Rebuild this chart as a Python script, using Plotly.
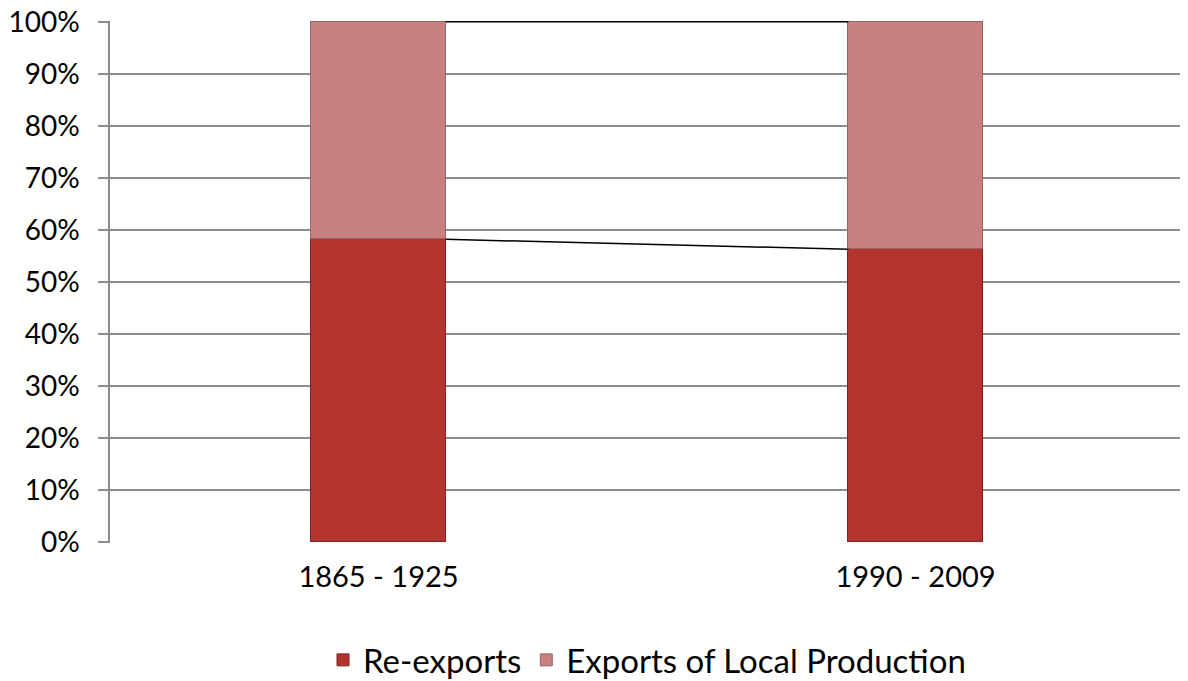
import plotly.graph_objects as go

# data (percent of total)
periods = ["1865 - 1925", "1990 - 2009"]
re_exports = [58.2, 56.3]
local_exports = [41.8, 43.7]
y_ticks = [0, 10, 20, 30, 40, 50, 60, 70, 80, 90, 100]

bar_width = 0.25
x_pos = list(range(len(periods)))

fig = go.Figure()

fig.add_trace(go.Bar(
    x=x_pos, y=re_exports, name="Re-exports", width=bar_width,
    marker=dict(color="#b3342f", line=dict(color="#7e2222", width=1)),
))
fig.add_trace(go.Bar(
    x=x_pos, y=local_exports, name="Exports of Local Production", width=bar_width,
    marker=dict(color="#c98080", line=dict(color="#9a6262", width=1)),
))

# series lines joining the segment tops between the bars
tops_1 = re_exports
tops_2 = [a + b for a, b in zip(re_exports, local_exports)]
for tops in (tops_1, tops_2):
    fig.add_trace(go.Scatter(
        x=[x_pos[0] + bar_width / 2, x_pos[1] - bar_width / 2],
        y=tops, mode="lines", line=dict(color="black", width=1.5),
        showlegend=False, hoverinfo="skip", cliponaxis=False,
    ))

# page body adds an 8px offset, so margins are trimmed by that
fig.update_layout(
    barmode="stack",
    width=1188, height=681,
    margin=dict(l=102, r=12, t=13, b=146, autoexpand=False),
    plot_bgcolor="white", paper_bgcolor="white",
    font=dict(family="Lato, 'Open Sans', sans-serif", size=28, color="black"),
    showlegend=True,
    legend=dict(
        orientation="h", x=0.5, xanchor="center", y=-0.224, yanchor="middle",
        font=dict(size=33), itemwidth=30, traceorder="normal",
    ),
    bargap=0,
)
fig.update_xaxes(
    range=[-0.5, 1.5], tickvals=x_pos, ticktext=periods,
    showgrid=False, zeroline=False, showline=False, ticks="",
    tickfont=dict(size=29), ticklabelstandoff=14, automargin=False,
)
fig.update_yaxes(
    range=[-0.15, 100.15], tickvals=y_ticks, ticktext=[f"{v}%" for v in y_ticks],
    showgrid=True, gridcolor="#8c8c8c", gridwidth=1.5,
    showline=True, linecolor="#8c8c8c", linewidth=1.5,
    ticks="outside", ticklen=10, tickcolor="#8c8c8c", tickwidth=1.5,
    zeroline=False, tickfont=dict(size=28), ticklabelstandoff=13,
    ticklabeloverflow="allow", automargin=False,
)

fig.write_html("out.html")
